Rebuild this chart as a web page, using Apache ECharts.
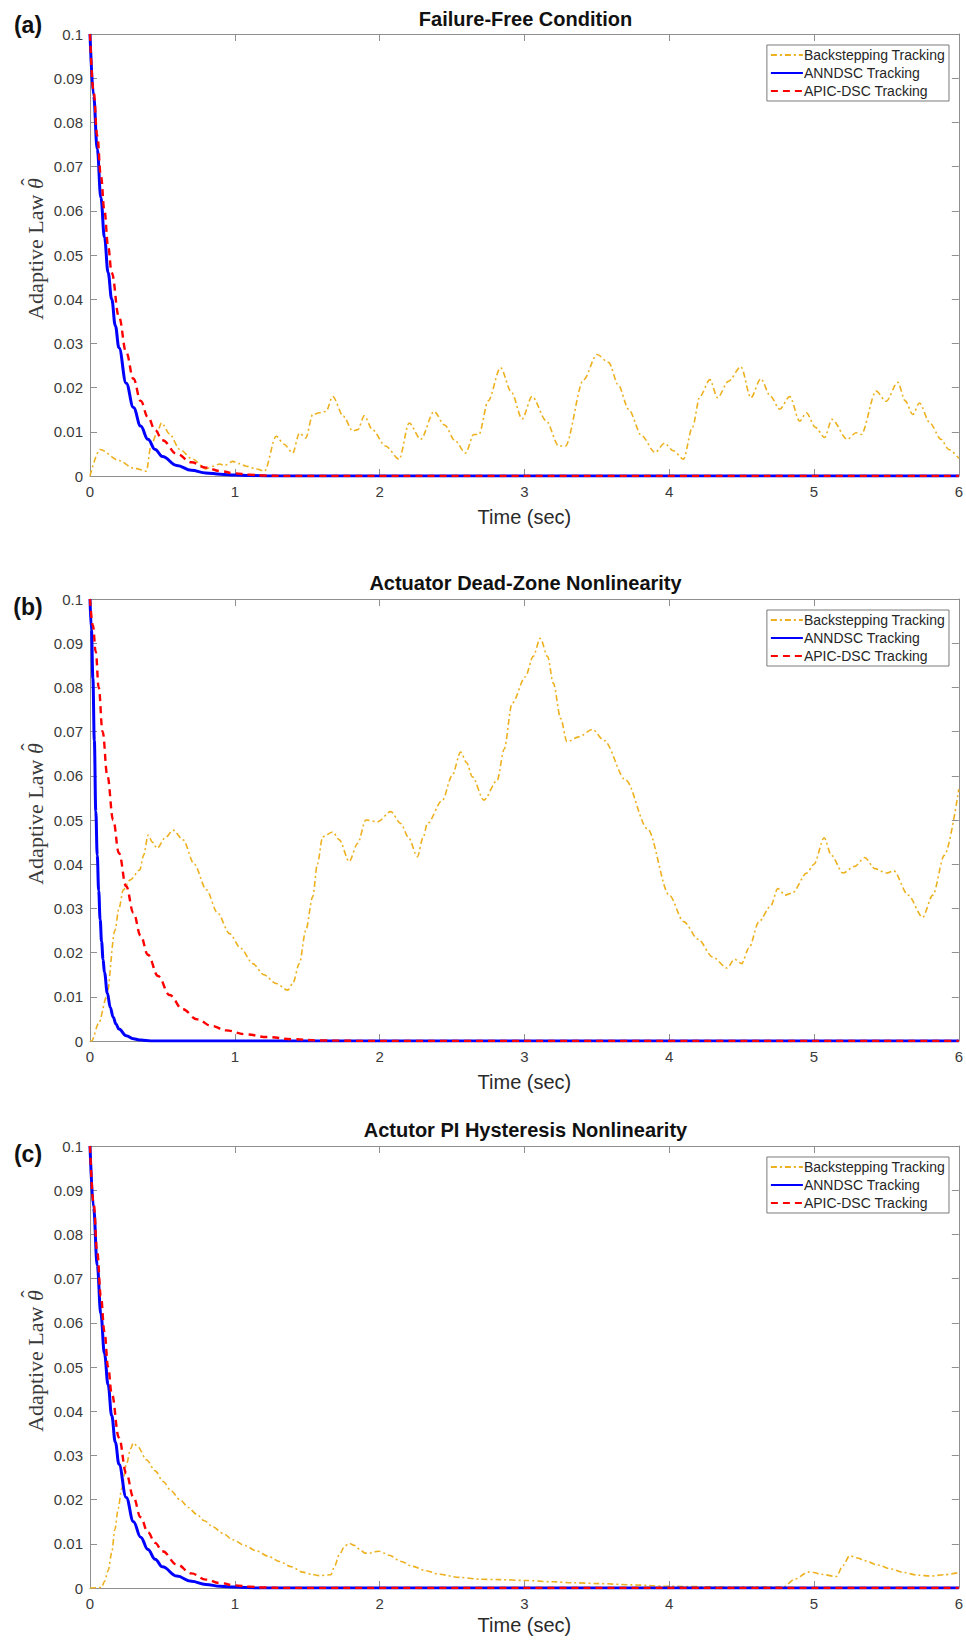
<!DOCTYPE html>
<html><head><meta charset="utf-8">
<script src="https://cdn.jsdelivr.net/npm/echarts@6/dist/echarts.min.js"></script>
<style>html,body{margin:0;padding:0;background:#fff}#c{width:966px;height:1641px}</style>
</head><body><div id="c"></div>
<script>
// ---------------- data ----------------
const panelLabels = ['(a)', '(b)', '(c)'];
const panelTitles = ['Failure-Free Condition', 'Actuator Dead-Zone Nonlinearity', 'Actutor PI Hysteresis Nonlinearity'];
const seriesNames = ['Backstepping Tracking', 'ANNDSC Tracking', 'APIC-DSC Tracking'];
const xAxisName = 'Time (sec)';
const yAxisNameText = 'Adaptive Law ';
const yAxisNameSymbol = 'θ';
const yAxisNameHat = 'ˆ';

// Panel (a) Failure-Free Condition  [time, value]
const backA = [[0,0],[0.069,0.006],[0.2,0.0035],[0.3,0.0018],[0.39,0.0011],[0.42,0.0067],[0.46,0.0095],[0.494,0.012],[0.55,0.0095],[0.62,0.006],[0.71,0.0038],[0.8,0.0016],[0.85,0.0022],[0.895,0.0027],[0.93,0.0024],[0.987,0.0033],[1.03,0.0028],[1.08,0.0022],[1.15,0.0016],[1.205,0.0011],[1.286,0.009],[1.34,0.0072],[1.40,0.0052],[1.446,0.0097],[1.49,0.0086],[1.538,0.0139],[1.584,0.0143],[1.63,0.0146],[1.676,0.018],[1.75,0.0135],[1.814,0.0102],[1.85,0.0105],[1.894,0.0136],[1.95,0.0105],[2.04,0.0068],[2.135,0.0038],[2.204,0.012],[2.284,0.0083],[2.376,0.0146],[2.45,0.0115],[2.52,0.008],[2.594,0.0052],[2.65,0.0094],[2.686,0.0094],[2.75,0.017],[2.835,0.0245],[2.91,0.019],[2.984,0.0129],[3.053,0.018],[3.15,0.0125],[3.237,0.0068],[3.283,0.0068],[3.409,0.0218],[3.501,0.0275],[3.581,0.0257],[3.65,0.0205],[3.719,0.0151],[3.81,0.0091],[3.902,0.0053],[3.967,0.0074],[4.029,0.0057],[4.098,0.0038],[4.16,0.011],[4.212,0.018],[4.281,0.0218],[4.334,0.0177],[4.408,0.0214],[4.495,0.0247],[4.564,0.0177],[4.632,0.022],[4.7,0.018],[4.763,0.0151],[4.832,0.018],[4.901,0.0124],[4.947,0.0143],[5.01,0.011],[5.073,0.0087],[5.124,0.0128],[5.229,0.0083],[5.291,0.0098],[5.326,0.0094],[5.429,0.0192],[5.498,0.0169],[5.578,0.0212],[5.63,0.017],[5.682,0.0139],[5.728,0.0165],[5.8,0.012],[5.877,0.0083],[5.93,0.006],[6,0.004]];
const annA = [[0,0.1],[0.025,0.086],[0.05,0.074],[0.075,0.063],[0.1,0.054],[0.125,0.046],[0.15,0.04],[0.175,0.034],[0.2,0.029],[0.25,0.021],[0.3,0.0155],[0.35,0.0113],[0.4,0.0083],[0.45,0.006],[0.5,0.0044],[0.6,0.0024],[0.7,0.0013],[0.8,0.0007],[0.9,0.0004],[1.0,0.0002],[1.1,0.0001],[1.25,0],[6,0]];
const apicA = [[0,0.1],[0.025,0.087],[0.05,0.077],[0.075,0.068],[0.1,0.06],[0.125,0.052],[0.15,0.046],[0.2,0.036],[0.25,0.028],[0.3,0.022],[0.35,0.017],[0.4,0.0133],[0.45,0.0104],[0.5,0.0081],[0.6,0.005],[0.7,0.0031],[0.8,0.0019],[0.9,0.0011],[1.0,0.0006],[1.1,0.0003],[1.2,0.0001],[1.35,0],[6,0]];

// Panel (b) Actuator Dead-Zone Nonlinearity
const backB = [[0,0],[0.011,0],[0.06,0.004],[0.115,0.01],[0.172,0.025],[0.2,0.03],[0.23,0.0342],[0.276,0.0364],[0.344,0.0387],[0.37,0.042],[0.402,0.0466],[0.43,0.045],[0.464,0.0436],[0.52,0.046],[0.574,0.0477],[0.643,0.0455],[0.72,0.04],[0.804,0.0342],[0.88,0.029],[0.964,0.0243],[1.04,0.021],[1.125,0.0175],[1.2,0.015],[1.286,0.013],[1.366,0.0115],[1.4,0.013],[1.446,0.0175],[1.49,0.025],[1.538,0.0326],[1.57,0.04],[1.607,0.0462],[1.676,0.0473],[1.722,0.0455],[1.79,0.0406],[1.848,0.0447],[1.905,0.05],[1.986,0.0496],[2.077,0.0519],[2.146,0.0492],[2.2,0.046],[2.261,0.0417],[2.3,0.046],[2.33,0.0492],[2.434,0.0545],[2.5,0.06],[2.56,0.0654],[2.6,0.063],[2.64,0.0598],[2.72,0.0545],[2.812,0.059],[2.86,0.066],[2.915,0.0764],[3.007,0.0824],[3.06,0.087],[3.11,0.0911],[3.16,0.087],[3.2,0.0809],[3.25,0.073],[3.294,0.0677],[3.375,0.0688],[3.47,0.0705],[3.55,0.068],[3.7,0.059],[3.85,0.048],[4.0,0.033],[4.1,0.027],[4.2,0.023],[4.3,0.019],[4.4,0.0165],[4.45,0.0185],[4.5,0.0175],[4.55,0.021],[4.62,0.027],[4.7,0.0305],[4.75,0.0345],[4.8,0.033],[4.85,0.0335],[4.95,0.038],[5.0,0.04],[5.07,0.046],[5.12,0.042],[5.2,0.038],[5.28,0.0395],[5.35,0.0415],[5.42,0.039],[5.5,0.038],[5.55,0.0385],[5.65,0.033],[5.75,0.028],[5.82,0.033],[5.9,0.042],[6,0.057]];
const annB = [[0,0.1],[0.01,0.093],[0.02,0.082],[0.03,0.068],[0.04,0.052],[0.05,0.042],[0.06,0.034],[0.07,0.0275],[0.08,0.0225],[0.09,0.0185],[0.1,0.0155],[0.12,0.0108],[0.14,0.0076],[0.16,0.0054],[0.18,0.0038],[0.2,0.0027],[0.25,0.0012],[0.3,0.0005],[0.35,0.0002],[0.42,0],[6,0]];
const apicB = [[0,0.1],[0.02,0.094],[0.04,0.088],[0.06,0.08],[0.087,0.07],[0.12,0.06],[0.16,0.05],[0.2,0.0425],[0.25,0.035],[0.3,0.029],[0.35,0.0238],[0.4,0.0195],[0.47,0.0147],[0.55,0.0104],[0.64,0.0072],[0.74,0.0049],[0.84,0.0034],[0.94,0.0024],[1.08,0.0015],[1.22,0.0009],[1.4,0.0004],[1.6,0.0001],[2,0],[6,0]];

// Panel (c) Actutor PI Hysteresis Nonlinearity
const backC = [[0,0],[0.08,0.0001],[0.1,0.0015],[0.126,0.004],[0.15,0.008],[0.172,0.0133],[0.195,0.018],[0.218,0.0224],[0.253,0.0282],[0.28,0.0315],[0.299,0.0328],[0.33,0.032],[0.39,0.029],[0.45,0.0265],[0.505,0.0241],[0.56,0.022],[0.62,0.02],[0.68,0.0182],[0.735,0.0167],[0.79,0.0152],[0.85,0.0138],[0.92,0.0123],[0.987,0.0109],[1.07,0.0096],[1.148,0.0084],[1.23,0.0072],[1.309,0.006],[1.39,0.0048],[1.469,0.0036],[1.53,0.0031],[1.584,0.0028],[1.664,0.003],[1.69,0.005],[1.722,0.0076],[1.76,0.0095],[1.79,0.0101],[1.83,0.0096],[1.86,0.0088],[1.9,0.0079],[1.928,0.0078],[1.96,0.0082],[1.997,0.0083],[2.03,0.0079],[2.066,0.0074],[2.15,0.006],[2.226,0.0049],[2.32,0.0039],[2.41,0.0031],[2.55,0.0024],[2.686,0.002],[2.824,0.0019],[3.007,0.0017],[3.2,0.0014],[3.33,0.0012],[3.51,0.001],[3.75,0.0007],[3.97,0.0004],[4.2,0.0003],[4.43,0.0002],[4.787,0.0002],[4.867,0.002],[4.959,0.0036],[5.0,0.0035],[5.05,0.0031],[5.154,0.0026],[5.2,0.0051],[5.246,0.0073],[5.3,0.0068],[5.349,0.0062],[5.44,0.0052],[5.533,0.0043],[5.62,0.0035],[5.717,0.0029],[5.809,0.0027],[5.9,0.003],[6,0.0035]];
const annC = [[0,0.1],[0.025,0.086],[0.05,0.073],[0.075,0.062],[0.1,0.053],[0.125,0.046],[0.15,0.039],[0.175,0.033],[0.2,0.028],[0.25,0.0205],[0.3,0.015],[0.35,0.0115],[0.4,0.0087],[0.45,0.0065],[0.5,0.0048],[0.6,0.0027],[0.7,0.0015],[0.8,0.0008],[0.9,0.0004],[1.0,0.0002],[1.15,0],[6,0]];
const apicC = [[0,0.1],[0.025,0.087],[0.05,0.076],[0.075,0.066],[0.1,0.058],[0.125,0.05],[0.15,0.044],[0.2,0.034],[0.25,0.026],[0.3,0.0205],[0.35,0.016],[0.4,0.0126],[0.45,0.0102],[0.5,0.0083],[0.6,0.0053],[0.7,0.0033],[0.8,0.0019],[0.9,0.0011],[1.0,0.0006],[1.1,0.0003],[1.2,0.0001],[1.35,0],[6,0]];

const panelData = [[backA, annA, apicA], [backB, annB, apicB], [backC, annC, apicC]];

// ---------------- layout / style ----------------
const GRID_LEFT = 90, GRID_W = 871, GRID_H = 442;
const gridTops = [34, 599, 1146];
const titleYs = [19, 583, 1130];
const labelYs = [25, 607, 1154];
const legendTops = [45, 610, 1157];
const xNameGaps = [31, 31, 27];
const AXIS_COLOR = '#8f8f8f';
const LABEL_COLOR = '#3a3a3a';
const SANS = 'Arial, "Liberation Sans", Helvetica, sans-serif';
const SERIF = '"Times New Roman", "Liberation Serif", serif';
const YNAME_FONT = '22px ' + SERIF;
const YSYM_FONT = 'italic 22px ' + SERIF;

const lineStyles = [
  { color: '#EDB120', width: 1.6, type: [6, 3, 2, 3] },
  { color: '#0000FF', width: 3, type: 'solid' },
  { color: '#FF0000', width: 2.4, type: [7, 5] }
];
const smoothness = [0.3, 0.4, 0.4];

// measure y-name pieces for placing the hat over theta
const mctx = document.createElement('canvas').getContext('2d');
mctx.font = YNAME_FONT; const wMain = mctx.measureText(yAxisNameText).width;
mctx.font = YSYM_FONT; const wSym = mctx.measureText(yAxisNameSymbol).width;
const wAll = wMain + wSym;

const grids = [], xAxes = [], yAxes = [], series = [], legends = [], graphics = [];
gridTops.forEach((top, p) => {
  grids.push({ left: GRID_LEFT, top: top, width: GRID_W, height: GRID_H, containLabel: false });
  const tick = { show: true, inside: true, length: 7, lineStyle: { color: AXIS_COLOR } };
  const line = { show: true, onZero: false, lineStyle: { color: AXIS_COLOR, width: 1 } };
  xAxes.push({
    type: 'value', gridIndex: p, position: 'bottom', min: 0, max: 6, interval: 1,
    axisLine: line, axisTick: tick, splitLine: { show: false },
    axisLabel: { color: LABEL_COLOR, fontSize: 15, fontFamily: SANS, margin: 8 },
    name: xAxisName, nameLocation: 'middle', nameGap: xNameGaps[p],
    nameTextStyle: { color: '#2a2a2a', fontSize: 20, fontFamily: SANS }
  });
  xAxes.push({
    type: 'value', gridIndex: p, position: 'top', min: 0, max: 6, interval: 1,
    axisLine: line, axisTick: tick, splitLine: { show: false }, axisLabel: { show: false }
  });
  yAxes.push({
    type: 'value', gridIndex: p, position: 'left', min: 0, max: 0.1, interval: 0.01,
    axisLine: line, axisTick: tick, splitLine: { show: false },
    axisLabel: { color: LABEL_COLOR, fontSize: 15, fontFamily: SANS, margin: 7,
      formatter: v => String(+v.toFixed(2)) }
  });
  yAxes.push({
    type: 'value', gridIndex: p, position: 'right', min: 0, max: 0.1, interval: 0.01,
    axisLine: line, axisTick: tick, splitLine: { show: false }, axisLabel: { show: false }
  });
  panelData[p].forEach((d, s) => {
    series.push({
      type: 'line', name: seriesNames[s], xAxisIndex: 2 * p, yAxisIndex: 2 * p,
      data: d, symbol: 'none', showSymbol: false, smooth: smoothness[s],
      smoothMonotone: 'x', lineStyle: lineStyles[s], itemStyle: { color: lineStyles[s].color },
      z: 2 + s, animation: false
    });
  });
  legends.push({
    data: seriesNames, orient: 'vertical', right: 17, top: legendTops[p],
    itemWidth: 32, itemHeight: 14, itemGap: 4, padding: [3, 4, 3, 3],
    backgroundColor: '#fff', borderColor: '#7a7a7a', borderWidth: 1,
    selectedMode: false, itemStyle: { opacity: 0, borderWidth: 0 },
    textStyle: { fontSize: 14, color: '#262626', fontFamily: SANS, padding: [0, 0, 0, -4] }
  });
  graphics.push({
    type: 'text', x: GRID_LEFT + GRID_W / 2, y: titleYs[p],
    style: { text: panelTitles[p], font: 'bold 20px ' + SANS, fill: '#111',
      textAlign: 'center', textVerticalAlign: 'middle', verticalAlign: 'middle' }
  });
  graphics.push({
    type: 'text', x: 28, y: labelYs[p],
    style: { text: panelLabels[p], font: 'bold 23px ' + SANS, fill: '#111',
      textAlign: 'center', textVerticalAlign: 'middle', verticalAlign: 'middle' }
  });
  // y-axis title: "Adaptive Law θ̂" (rotated, reading upward)
  graphics.push({
    type: 'group', x: 35, y: top + GRID_H / 2 - 6, rotation: Math.PI / 2,
    children: [
      { type: 'text', x: -wAll / 2, y: 0,
        style: { text: yAxisNameText, font: YNAME_FONT, fill: '#3a3a3a',
          textAlign: 'left', textVerticalAlign: 'middle', verticalAlign: 'middle' } },
      { type: 'text', x: -wAll / 2 + wMain, y: 0,
        style: { text: yAxisNameSymbol, font: YSYM_FONT, fill: '#3a3a3a',
          textAlign: 'left', textVerticalAlign: 'middle', verticalAlign: 'middle' } },
      { type: 'text', x: -wAll / 2 + wMain + wSym / 2 + 1.5, y: -7,
        style: { text: yAxisNameHat, font: '22px ' + SERIF, fill: '#3a3a3a',
          textAlign: 'center', textVerticalAlign: 'middle', verticalAlign: 'middle' } }
    ]
  });
});

const chart = echarts.init(document.getElementById('c'), null, { renderer: 'svg', width: 966, height: 1641 });
chart.setOption({
  animation: false,
  backgroundColor: '#fff',
  grid: grids, xAxis: xAxes, yAxis: yAxes, series: series, legend: legends,
  graphic: { elements: graphics }
});
</script></body></html>
